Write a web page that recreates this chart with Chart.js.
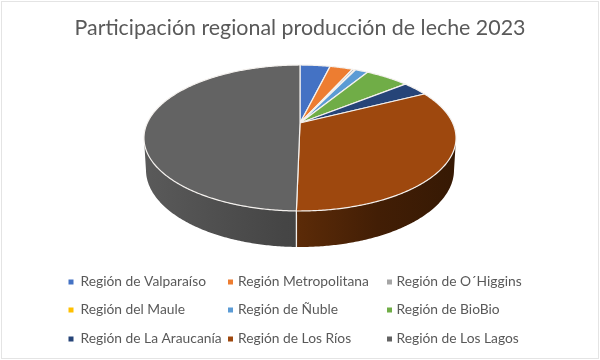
<!DOCTYPE html>
<html>
<head>
<meta charset="utf-8">
<style>html,body{margin:0;padding:0;background:#fff}canvas{display:block;filter:blur(0.35px)}</style>
<script src="https://cdn.jsdelivr.net/npm/chart.js@4/dist/chart.umd.min.js"></script>
</head>
<body>
<canvas id="c" width="600" height="360"></canvas>
<script>
const titleText = 'Participación regional producción de leche 2023';
const regions = ['Región de Valparaíso','Región Metropolitana','Región de O´Higgins','Región del Maule','Región de Ñuble','Región de BioBio','Región de La Araucanía','Región de Los Ríos','Región de Los Lagos'];
const shares = [3.8, 2.9, 0.3, 0.1, 1.6, 5.5, 3.3, 32.8, 49.7];
const sliceColors = ['#4472C4','#ED7D31','#A5A5A5','#FFC000','#5B9BD5','#70AD47','#264478','#9E480E','#636363'];
const sideColors = ['#2a4577','#8f4b1e','#646464','#9a7400','#375e81','#44692b','#172949','#5c2b08','#585858'];

// Perspective tilt of the pie disc
const P = {cx:300, cy:123, A:152.7, a:69.9, c:-0.2055, midY:138, lowMidY:170, lowK:1.055, shrink:0.987};
function topPoint(ang){
  const u=Math.cos(ang), v=Math.sin(ang), w=1+P.c*v;
  return [P.cx+P.A*u/w, P.cy+P.a*v/w];
}
function lowPoint(p){
  if(p[1]<P.midY) return p;
  return [P.cx+(p[0]-P.cx)*P.shrink, P.lowMidY+(p[1]-P.midY)*P.lowK];
}
function rim(a0,a1){
  const n=Math.max(2,Math.ceil((a1-a0)/0.01)), pts=[];
  for(let i=0;i<=n;i++) pts.push(topPoint(a0+(a1-a0)*i/n));
  return pts;
}
const disc3d = {
  id:'disc3d',
  beforeDatasetsDraw(chart){
    const ctx=chart.ctx, arcs=chart.getDatasetMeta(0).data;
    ctx.save();
    // side wall
    arcs.forEach((el,i)=>{
      const pts=rim(el.startAngle,el.endAngle);
      const low=pts.map(lowPoint).reverse();
      const g=ctx.createLinearGradient(144,0,456,0);
      if(i===8){g.addColorStop(0,'#5a5a5a');g.addColorStop(0.45,'#454545');g.addColorStop(0.98,'#3d3d3d');}
      else if(i===7){g.addColorStop(0.49,'#5c2b08');g.addColorStop(0.75,'#421e05');g.addColorStop(1,'#361904');}
      else{g.addColorStop(0,sideColors[i]);g.addColorStop(1,sideColors[i]);}
      ctx.beginPath();
      pts.concat(low).forEach((p,k)=>k?ctx.lineTo(p[0],p[1]):ctx.moveTo(p[0],p[1]));
      ctx.closePath();
      ctx.fillStyle=g; ctx.fill();
    });
    // white seam down the wall at the front slice boundary
    arcs.forEach(el=>{
      const s=Math.sin(el.endAngle);
      if(s>0.5){
        const p=topPoint(el.endAngle), q=lowPoint(p);
        ctx.beginPath();ctx.moveTo(p[0],p[1]);ctx.lineTo(q[0],q[1]);
        ctx.strokeStyle='#f2efec';ctx.lineWidth=1.3;ctx.stroke();
      }
    });
    // top faces
    arcs.forEach((el,i)=>{
      const pts=rim(el.startAngle,el.endAngle);
      ctx.beginPath();
      ctx.moveTo(P.cx,P.cy);
      pts.forEach(p=>ctx.lineTo(p[0],p[1]));
      ctx.closePath();
      ctx.fillStyle=el.options.backgroundColor;
      ctx.fill();
      ctx.strokeStyle='#f4f1ee';ctx.lineWidth=1.2;ctx.lineJoin='round';ctx.stroke();
    });
    ctx.restore();
    return false;
  },
  afterDraw(chart){
    const ctx=chart.ctx;
    ctx.save();
    ctx.strokeStyle='#e4e4e4';ctx.lineWidth=1;ctx.strokeRect(1.5,1.5,597,357);
    const boxX=[68.5,228,387], textX=[80.5,238,396.5], rowY=[282,310,339];
    ctx.font='13.8px Lato';ctx.textBaseline='middle';ctx.textAlign='left';
    chart.data.labels.forEach((t,i)=>{
      const y=rowY[Math.floor(i/3)];
      ctx.fillStyle=chart.data.datasets[0].backgroundColor[i];
      ctx.fillRect(boxX[i%3],y-2.5,5,5);
      ctx.fillStyle='#595959';
      ctx.fillText(t,textX[i%3],y);
    });
    ctx.restore();
  }
};
new Chart(document.getElementById('c'),{
  type:'pie',
  data:{labels:regions,datasets:[{data:shares,backgroundColor:sliceColors}]},
  plugins:[disc3d],
  options:{
    responsive:false,animation:false,
    plugins:{
      legend:{display:false},tooltip:{enabled:false},
      title:{display:true,text:titleText,color:'#595959',font:{family:'Lato',size:21.4,weight:'normal'},padding:{top:15,bottom:8}}
    }
  }
});
</script>
</body>
</html>
